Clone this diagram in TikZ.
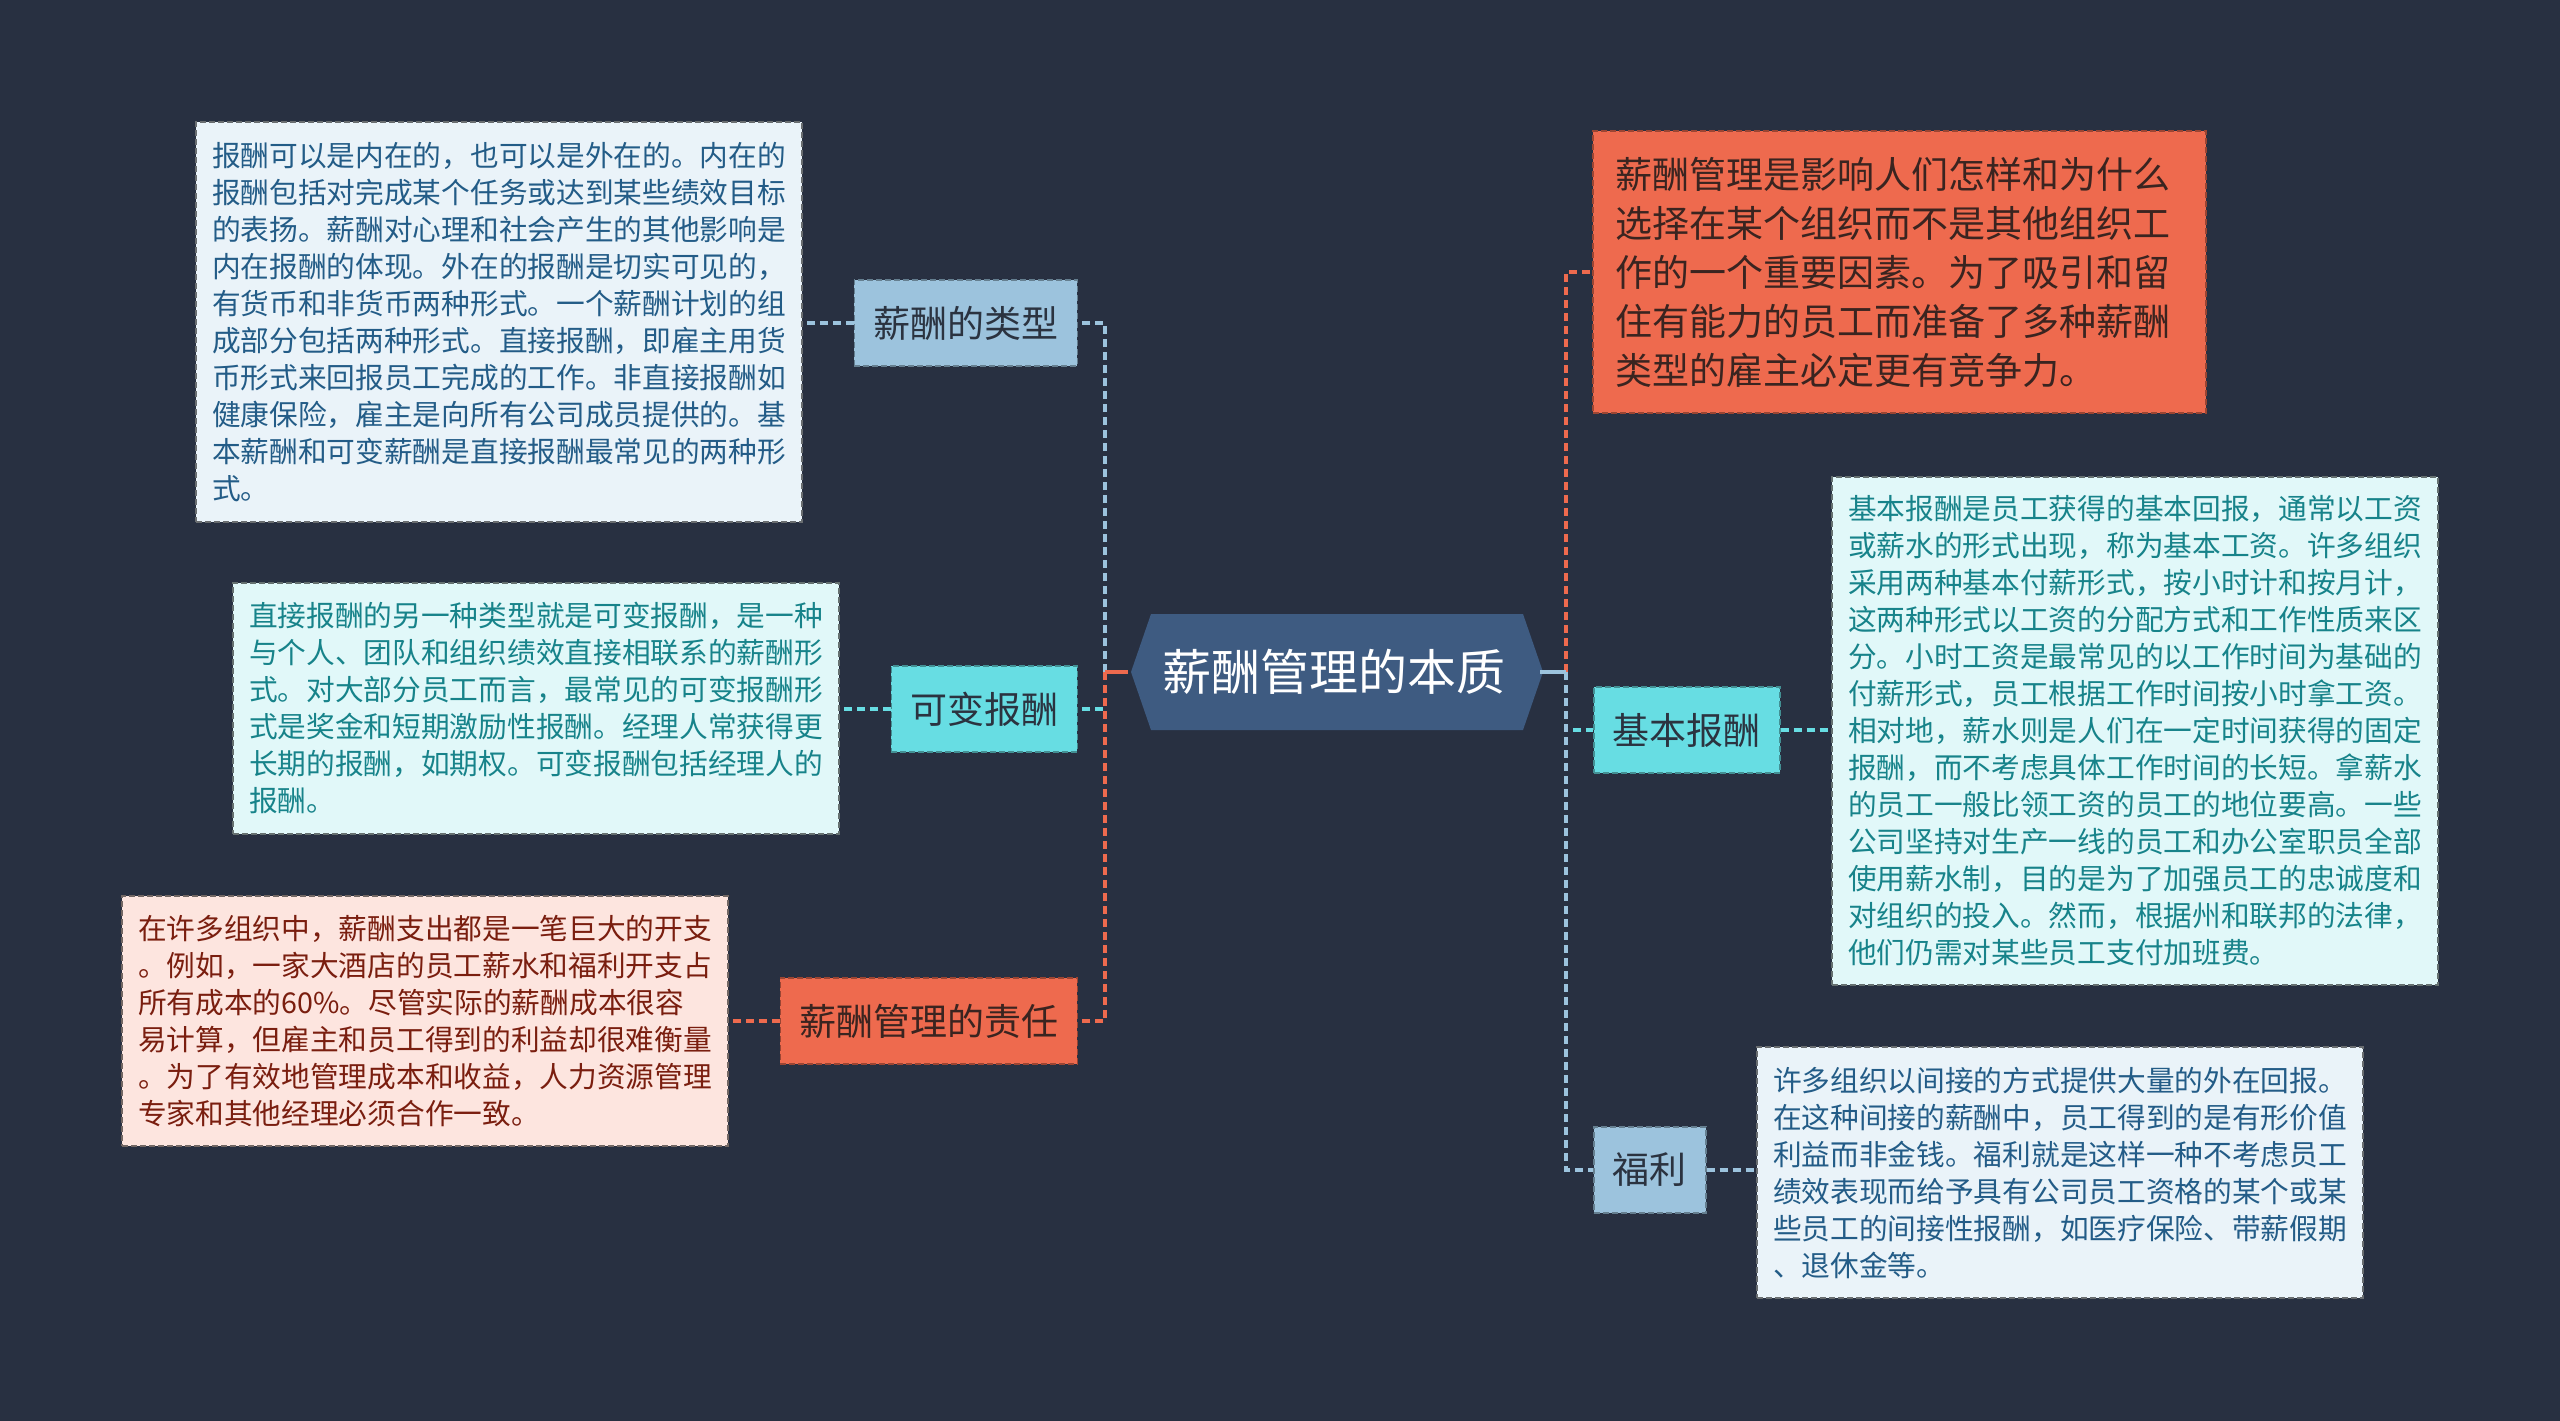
\documentclass[tikz,border=0pt]{standalone}
\usepackage{fontspec}
\setmainfont{Noto Sans CJK SC}
\definecolor{bg}{HTML}{283041}
\definecolor{cnode}{HTML}{3E5B81}
\definecolor{cblue}{HTML}{9CC3DD}
\definecolor{ccyan}{HTML}{67DDE3}
\definecolor{corange}{HTML}{EE6A4E}
\definecolor{fblue}{HTML}{EAF3F9}
\definecolor{fcyan}{HTML}{E1F8F9}
\definecolor{fpink}{HTML}{FDE5DF}
\definecolor{tblue}{HTML}{235C87}
\definecolor{tteal}{HTML}{17838A}
\definecolor{tred}{HTML}{7A1E0F}
\definecolor{tdark}{HTML}{2B3340}
\definecolor{tbrown}{HTML}{3A2420}
\tikzset{
  lbl/.style={fill=#1, draw=#1!65!black, dash pattern=on 6pt off 3pt, line width=1.5pt,
    inner xsep=19pt, inner ysep=0pt, minimum height=86pt, text=tdark,
    font=\fontsize{37}{44}\selectfont},
  txtbox/.style={fill=#1, draw=#1!45!black, dash pattern=on 6pt off 3pt, line width=1.5pt,
    text width=574pt, inner xsep=16pt, inner ysep=0pt, align=left,
    font=\fontsize{28.7}{37}\selectfont},
  conn/.style={line width=4pt, dash pattern=on 8pt off 5pt},
  solidconn/.style={line width=4pt},
}
\begin{document}
\begin{tikzpicture}[x=1pt, y=-1pt]
\useasboundingbox (0,0) rectangle (2560,1421);
\fill[bg] (0,0) rectangle (2560,1421);

% central hexagon
\fill[cnode] (1131,672) -- (1151,614) -- (1523,614) -- (1543,672) -- (1523,730) -- (1151,730) -- cycle;
\node[font=\fontsize{49}{56}\selectfont, text=white, minimum width=412pt, minimum height=116pt, inner sep=0pt] (C) at (1334,672) {薪酬管理的本质};

% junction coordinates
\coordinate (jl) at (1105,672);
\coordinate (jr) at (1566,672);

% left labels
\node[lbl=cblue, anchor=east] (L1) at (1078,323) {薪酬的类型};
\node[lbl=ccyan, anchor=east] (L2) at (1078,709) {可变报酬};
\node[lbl=corange, anchor=east, text=tbrown] (L3) at (1078,1021) {薪酬管理的责任};

% right labels
\node[lbl=ccyan, anchor=west] (M1) at (1593,730) {基本报酬};
\node[lbl=cblue, anchor=west] (M2) at (1593,1170) {福利};

% text boxes
\node[txtbox=fblue, text=tblue, minimum height=400pt] (T1) at (499,322) {报酬可以是内在的，也可以是外在的。内在的\\
报酬包括对完成某个任务或达到某些绩效目标\\
的表扬。薪酬对心理和社会产生的其他影响是\\
内在报酬的体现。外在的报酬是切实可见的，\\
有货币和非货币两种形式。一个薪酬计划的组\\
成部分包括两种形式。直接报酬，即雇主用货\\
币形式来回报员工完成的工作。非直接报酬如\\
健康保险，雇主是向所有公司成员提供的。基\\
本薪酬和可变薪酬是直接报酬最常见的两种形\\
式。};

\node[txtbox=fcyan, text=tteal, minimum height=251pt] (T2) at (536,708.5) {直接报酬的另一种类型就是可变报酬，是一种\\
与个人、团队和组织绩效直接相联系的薪酬形\\
式。对大部分员工而言，最常见的可变报酬形\\
式是奖金和短期激励性报酬。经理人常获得更\\
长期的报酬，如期权。可变报酬包括经理人的\\
报酬。};

\node[txtbox=fpink, text=tred, minimum height=250pt] (T3) at (425,1021) {在许多组织中，薪酬支出都是一笔巨大的开支\\
。例如，一家大酒店的员工薪水和福利开支占\\
所有成本的60\%。尽管实际的薪酬成本很容\\
易计算，但雇主和员工得到的利益却很难衡量\\
。为了有效地管理成本和收益，人力资源管理\\
专家和其他经理必须合作一致。};

\node[txtbox=corange, draw=corange!65!black, text=tbrown, text width=569pt, inner xsep=22pt,
  minimum height=282pt, font=\fontsize{37}{49}\selectfont] (R1) at (1899.5,272) {薪酬管理是影响人们怎样和为什么\\
选择在某个组织而不是其他组织工\\
作的一个重要因素。为了吸引和留\\
住有能力的员工而准备了多种薪酬\\
类型的雇主必定更有竞争力。};

\node[txtbox=fcyan, text=tteal, minimum height=508pt] (R2) at (2135,731) {基本报酬是员工获得的基本回报，通常以工资\\
或薪水的形式出现，称为基本工资。许多组织\\
采用两种基本付薪形式，按小时计和按月计，\\
这两种形式以工资的分配方式和工作性质来区\\
分。小时工资是最常见的以工作时间为基础的\\
付薪形式，员工根据工作时间按小时拿工资。\\
相对地，薪水则是人们在一定时间获得的固定\\
报酬，而不考虑具体工作时间的长短。拿薪水\\
的员工一般比领工资的员工的地位要高。一些\\
公司坚持对生产一线的员工和办公室职员全部\\
使用薪水制，目的是为了加强员工的忠诚度和\\
对组织的投入。然而，根据州和联邦的法律，\\
他们仍需对某些员工支付加班费。};

\node[txtbox=fblue, text=tblue, minimum height=251pt] (R3) at (2060,1172.5) {许多组织以间接的方式提供大量的外在回报。\\
在这种间接的薪酬中，员工得到的是有形价值\\
利益而非金钱。福利就是这样一种不考虑员工\\
绩效表现而给予具有公司员工资格的某个或某\\
些员工的间接性报酬，如医疗保险、带薪假期\\
、退休金等。};

% left connectors
\draw[conn, cblue] (jl) |- (L1.east);
\draw[conn, ccyan] (jl) |- (L2.east);
\draw[conn, corange] (jl) |- (L3.east);
\draw[solidconn, corange] (C.west) -- (jl);

% right connectors
\draw[conn, corange] (jr) |- (R1.west);
\draw[conn, ccyan] (jr) |- (M1.west);
\draw[conn, cblue] (jr) |- (M2.west);
\draw[solidconn, cblue] (C.east) -- (jr);

% label to text connectors
\draw[conn, cblue] (L1.west) -- (L1.west -| T1.east);
\draw[conn, ccyan] (L2.west) -- (L2.west -| T2.east);
\draw[conn, corange] (L3.west) -- (L3.west -| T3.east);
\draw[conn, ccyan] (M1.east) -- (M1.east -| R2.west);
\draw[conn, cblue] (M2.east) -- (M2.east -| R3.west);
\end{tikzpicture}
\end{document}
